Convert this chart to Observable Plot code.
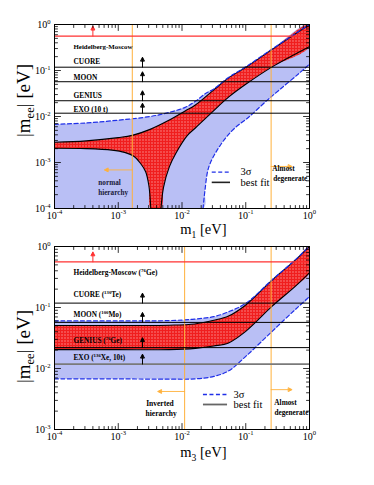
<!DOCTYPE html>
<html><head><meta charset="utf-8">
<script src="https://cdn.jsdelivr.net/npm/d3@7"></script>
<script src="https://cdn.jsdelivr.net/npm/@observablehq/plot@0.6"></script>
<style>body{margin:0;background:#fff} #c svg{display:block}</style>
</head><body>
<svg width="0" height="0" style="position:absolute">
<defs>
<pattern id="redDots" width="3" height="3" patternUnits="userSpaceOnUse">
<rect width="3" height="3" fill="#f01e1e"/><rect x="1" y="1" width="1" height="1" fill="#ffd6d6"/>
</pattern>
<pattern id="blueDots" width="2" height="2" patternUnits="userSpaceOnUse">
<rect width="2" height="2" fill="#d8dcfa"/><rect x="0" y="0" width="1" height="1" fill="#5a68e6"/>
</pattern>
</defs></svg>
<div id="c"></div>
<script>
// ---------- data ----------
const X_TICKS = [1e-4, 1e-3, 1e-2, 1e-1, 1];
const X_TICK_LABELS = ["10^{-4}", "10^{-3}", "10^{-2}", "10^{-1}", "10^{0}"];
const Y_TICKS_TOP = [1e-4, 1e-3, 1e-2, 1e-1, 1];
const Y_TICK_LABELS_TOP = ["10^{-4}", "10^{-3}", "10^{-2}", "10^{-1}", "10^{0}"];
const Y_TICKS_BOT = [1e-3, 1e-2, 1e-1, 1];
const Y_TICK_LABELS_BOT = ["10^{-3}", "10^{-2}", "10^{-1}", "10^{0}"];

const EXP_TOP = ["Heidelberg-Moscow", "CUORE", "MOON", "GENIUS", "EXO (10 t)"];
const EXP_BOT = ["Heidelberg-Moscow (^{76}Ge)", "CUORE (^{130}Te)", "MOON (^{100}Mo)", "GENIUS (^{76}Ge)", "EXO (^{136}Xe, 10t)"];
const LIMITS = [0.56, 0.118, 0.057, 0.022, 0.0118];

const ORANGE_TOP = [1.66e-3, 0.25];
const ORANGE_BOT = [0.011, 0.25];

// normal hierarchy: [m1, |mee|]
const nhFitHi = [[1e-4,2.75e-3],[3.16e-4,2.95e-3],[1e-3,3.47e-3],[1.66e-3,3.89e-3],[3.16e-3,5.25e-3],[5.89e-3,7.94e-3],[0.0112,0.0132],[0.0162,0.0178],[0.0316,0.038],[0.0537,0.069],[0.1,0.117],[0.26,0.288],[1,1.0]];
const nhFitLoA = [[1e-4,2.04e-3],[3.16e-4,2.0e-3],[7.94e-4,1.86e-3],[1.26e-3,1.66e-3],[1.78e-3,1.35e-3],[2.24e-3,9.5e-4],[2.69e-3,6.3e-4],[3.02e-3,3.16e-4],[3.24e-3,1e-4]];
const nhFitLoB = [[4.68e-3,1e-4],[5.13e-3,2.88e-4],[6.31e-3,7.94e-4],[7.94e-3,1.55e-3],[0.012,3.8e-3],[0.0162,5.62e-3],[0.0295,0.0123],[0.0537,0.0263],[0.1,0.0501],[0.26,0.12],[1,0.331]];
const nh3Hi = [[1e-4,6.76e-3],[3.16e-4,7.24e-3],[1e-3,8.32e-3],[3.16e-3,0.01],[5.89e-3,0.012],[0.0112,0.0158],[0.0162,0.0214],[0.0234,0.0316],[0.0316,0.0398],[0.0537,0.0708],[0.1,0.12],[0.26,0.295],[1,1.01]];
const nh3Lo = [[0.0214,1e-4],[0.0229,2.45e-4],[0.0263,7.94e-4],[0.038,2.14e-3],[0.0617,5.01e-3],[0.112,9.77e-3],[0.216,0.0224],[0.331,0.0372],[0.676,0.0851],[1,0.138]];

// inverted hierarchy: [m3, |mee|]
const ihFitHi = [[1e-4,0.0507],[1e-3,0.0507],[6.31e-3,0.0513],[0.0158,0.0537],[0.0316,0.0617],[0.0537,0.0724],[0.1,0.11],[0.26,0.282],[0.603,0.603],[1,1.0]];
const ihFitLo = [[1e-4,0.0204],[1e-3,0.0204],[6.31e-3,0.0204],[0.0162,0.0214],[0.0316,0.0234],[0.0537,0.0263],[0.1,0.0407],[0.26,0.105],[0.603,0.224],[1,0.372]];
const ih3Hi = [[1e-4,0.0603],[1e-3,0.0603],[6.31e-3,0.061],[0.0158,0.0646],[0.0316,0.0708],[0.0537,0.0851],[0.1,0.117],[0.26,0.285],[0.603,0.61],[1,1.01]];
const ih3Lo = [[1e-4,6.76e-3],[1e-3,6.76e-3],[6.31e-3,6.68e-3],[0.0162,6.76e-3],[0.0316,7.41e-3],[0.0537,9.12e-3],[0.1,0.0158],[0.26,0.0407],[0.603,0.0933],[1,0.151]];

// ---------- drawing ----------
const SERIF = "'Liberation Serif','Times New Roman','DejaVu Serif',serif";
const BLUE = "#1f2fe8", RED = "#ff3030", ORANGE = "#ffb13b";
const minorTicks = (lo, hi) => { const out = []; for (let e = lo; e < hi; e++) for (let k = 2; k < 10; k++) out.push(k * 10 ** e); return out; };
const X_MINOR = minorTicks(-4, 0);

const tickLine = {draw(c, l) { c.moveTo(0, 0); c.lineTo(0, -l); }};
const arrowHead = {draw(c, l) { c.moveTo(0, 0); c.lineTo(0, -l + 3); c.moveTo(-1.8, -l + 3.6); c.lineTo(0, -l); c.lineTo(1.8, -l + 3.6); c.closePath(); }};
const px = d => d[0], py = d => d[1];

function frameTicks(yMaj, yMin) {
  const v = (data, o) => Plot.vector(data, {shape: tickLine, anchor: "start", stroke: "black", strokeWidth: 0.8, ...o});
  return [
    v(X_TICKS, {x: d => d, frameAnchor: "bottom", rotate: 0, length: 6}),
    v(X_MINOR, {x: d => d, frameAnchor: "bottom", rotate: 0, length: 3}),
    v(X_TICKS, {x: d => d, frameAnchor: "top", rotate: 180, length: 6}),
    v(X_MINOR, {x: d => d, frameAnchor: "top", rotate: 180, length: 3}),
    v(yMaj, {y: d => d, frameAnchor: "left", rotate: 90, length: 6}),
    v(yMin, {y: d => d, frameAnchor: "left", rotate: 90, length: 3}),
    v(yMaj, {y: d => d, frameAnchor: "right", rotate: -90, length: 6}),
    v(yMin, {y: d => d, frameAnchor: "right", rotate: -90, length: 3})
  ];
}
function axes(yTicks, yLabels) {
  return [
    Plot.axisX({ticks: X_TICKS, tickFormat: d => X_TICK_LABELS[X_TICKS.indexOf(d)], tickSize: 0, tickPadding: 3, label: null, fontSize: 10}),
    Plot.axisY({ticks: yTicks, tickFormat: d => yLabels[yTicks.indexOf(d)], tickSize: 0, tickPadding: 4, label: null, fontSize: 10})
  ];
}
function expMarks(names, hmDy, dys, fontHM, fontOther, exoColor) {
  const rows = names.map((name, i) => ({name, limit: LIMITS[i], dy: dys[i]}));
  const out = [
    Plot.ruleY(rows.slice(0, 1), {y: "limit", stroke: RED, strokeWidth: 1.2}),
    Plot.ruleY(rows.slice(1, 4), {y: "limit", stroke: "black", strokeWidth: 1}),
    Plot.ruleY(rows.slice(4), {y: "limit", stroke: exoColor, strokeWidth: exoColor === "black" ? 1 : 1.6}),
    Plot.vector(rows.slice(0, 1), {x: 4e-4, y: "limit", rotate: 0, length: 10, anchor: "start", shape: arrowHead, stroke: RED, fill: RED, strokeWidth: 1}),
    Plot.vector(rows.slice(1), {x: 2.4e-3, y: "limit", rotate: 0, length: 10, anchor: "start", shape: arrowHead, stroke: "black", fill: "black", strokeWidth: 1}),
    Plot.text(rows.slice(0, 1), {y: "limit", text: "name", frameAnchor: "left", dx: 19, dy: hmDy, textAnchor: "start", fontWeight: "bold", fontSize: fontHM})
  ];
  rows.slice(1).forEach(r => out.push(Plot.text([r], {y: "limit", text: "name", frameAnchor: "left", dx: 19, dy: r.dy, textAnchor: "start", fontWeight: "bold", fontSize: fontOther})));
  return out;
}
function bandMarks(blueShape, redShape, fitLines, sigmaLines) {
  return [
    Plot.line(blueShape, {x: px, y: py, fill: "url(#blueDots)", stroke: "none", curve: "catmull-rom", clip: true}),
    Plot.line(redShape, {x: px, y: py, fill: "url(#redDots)", stroke: "none", curve: "catmull-rom", clip: true}),
    ...fitLines.map(l => Plot.line(l, {x: px, y: py, stroke: "black", strokeWidth: 1.1, curve: "catmull-rom", clip: true})),
    ...sigmaLines.map(l => Plot.line(l, {x: px, y: py, stroke: BLUE, strokeWidth: 1.2, strokeDasharray: "4,2.5", curve: "catmull-rom", clip: true}))
  ];
}
const style = {fontFamily: SERIF, fontSize: "10px", color: "black", background: "white"};

const plotTop = Plot.plot({
  width: 374, height: 240, marginTop: 24, marginBottom: 32, marginLeft: 54, marginRight: 65,
  x: {type: "log", domain: [1e-4, 1]}, y: {type: "log", domain: [1e-4, 1]}, style,
  marks: [
    ...bandMarks([...nh3Hi, ...nh3Lo.slice().reverse(), [1e-4, 1e-4]],
                 [...nhFitHi, ...nhFitLoB.slice().reverse(), ...nhFitLoA.slice().reverse()],
                 [nhFitHi, nhFitLoA, nhFitLoB], [nh3Hi, nh3Lo]),
    Plot.ruleX(ORANGE_TOP, {stroke: ORANGE, strokeWidth: 1}),
    ...expMarks(EXP_TOP, 11, [0, -6, -4, -5, -4], 6.9, 7.4, "black"),
    Plot.vector([ORANGE_TOP[0]], {x: d => d, y: 6.9e-4, rotate: -90, length: 28, anchor: "start", shape: arrowHead, stroke: ORANGE, fill: ORANGE, strokeWidth: 0.9}),
    Plot.vector([ORANGE_TOP[1]], {x: d => d, y: 8.2e-4, rotate: 90, length: 21, anchor: "start", shape: arrowHead, stroke: ORANGE, fill: ORANGE, strokeWidth: 0.9}),
    Plot.text(["normal"], {x: 7.3e-4, y: 3.7e-4, fontSize: 7.2, fontWeight: "bold", fill: "#1a1a3a"}),
    Plot.text(["hierarchy"], {x: 8.3e-4, y: 2.2e-4, fontSize: 7.2, fontWeight: "bold", fill: "#1a1a3a"}),
    Plot.text(["Almost"], {x: 0.39, y: 7.4e-4, fontSize: 7.3, fontWeight: "bold"}),
    Plot.text(["degenerate"], {x: 0.5, y: 4.5e-4, fontSize: 7.3, fontWeight: "bold"}),
    Plot.ruleY([6.2e-4], {x1: 0.0298, x2: 0.0577, stroke: BLUE, strokeWidth: 1.3, strokeDasharray: "4,2.5"}),
    Plot.ruleY([3.7e-4], {x1: 0.0298, x2: 0.0577, stroke: "#222", strokeWidth: 1.6}),
    Plot.text(["3σ"], {x: 0.083, y: 6.2e-4, textAnchor: "start", fontSize: 10.5}),
    Plot.text(["best fit"], {x: 0.083, y: 3.7e-4, textAnchor: "start", fontSize: 10.5}),
    Plot.frame({stroke: "black", strokeWidth: 1}),
    ...frameTicks(Y_TICKS_TOP, minorTicks(-4, 0)),
    ...axes(Y_TICKS_TOP, Y_TICK_LABELS_TOP),
    Plot.text(["m_{1} [eV]"], {x: 0.0217, y: 3.5e-5, fontSize: 14.5}),
    Plot.text(["|m_{ee}| [eV]"], {x: 3.27e-5, y: 0.0223, rotate: -90, fontSize: 19})
  ]
});

const plotBot = Plot.plot({
  width: 374, height: 245, marginTop: 6, marginBottom: 56, marginLeft: 54, marginRight: 65,
  x: {type: "log", domain: [1e-4, 1]}, y: {type: "log", domain: [1e-3, 1]}, style,
  marks: [
    ...bandMarks([...ih3Hi, ...ih3Lo.slice().reverse()],
                 [...ihFitHi, ...ihFitLo.slice().reverse()],
                 [ihFitHi, ihFitLo], [ih3Hi, ih3Lo]),
    Plot.ruleX(ORANGE_BOT, {stroke: ORANGE, strokeWidth: 1}),
    ...expMarks(EXP_BOT, 10.5, [0, -8, -7.5, -7, -6], 7.4, 7.3, "#7a7a7a"),
    Plot.vector([ORANGE_BOT[0]], {x: d => d, y: 4.2e-3, rotate: -90, length: 27, anchor: "start", shape: arrowHead, stroke: ORANGE, fill: ORANGE, strokeWidth: 0.9}),
    Plot.vector([ORANGE_BOT[1]], {x: d => d, y: 4.5e-3, rotate: 90, length: 21, anchor: "start", shape: arrowHead, stroke: ORANGE, fill: ORANGE, strokeWidth: 0.9}),
    Plot.text(["Inverted"], {x: 4.5e-3, y: 2.7e-3, fontSize: 7.5, fontWeight: "bold"}),
    Plot.text(["hierarchy"], {x: 4.7e-3, y: 1.8e-3, fontSize: 7.5, fontWeight: "bold"}),
    Plot.text(["Almost"], {x: 0.42, y: 2.8e-3, fontSize: 7.3, fontWeight: "bold"}),
    Plot.text(["degenerate"], {x: 0.52, y: 1.9e-3, fontSize: 7.3, fontWeight: "bold"}),
    Plot.ruleY([3.75e-3], {x1: 0.0217, x2: 0.0518, stroke: BLUE, strokeWidth: 1.3, strokeDasharray: "4,2.5"}),
    Plot.ruleY([2.57e-3], {x1: 0.0217, x2: 0.0518, stroke: "#666", strokeWidth: 1.8}),
    Plot.text(["3σ"], {x: 0.0643, y: 3.75e-3, textAnchor: "start", fontSize: 10.5}),
    Plot.text(["best fit"], {x: 0.0643, y: 2.57e-3, textAnchor: "start", fontSize: 10.5}),
    Plot.frame({stroke: "black", strokeWidth: 1}),
    ...frameTicks(Y_TICKS_BOT, minorTicks(-3, 0)),
    ...axes(Y_TICKS_BOT, Y_TICK_LABELS_BOT),
    Plot.text(["m_{3} [eV]"], {x: 0.0217, y: 4.2e-4, fontSize: 14.5}),
    Plot.text(["|m_{ee}| [eV]"], {x: 3.27e-5, y: 0.0229, rotate: -90, fontSize: 19})
  ]
});

const c = document.getElementById("c");
c.appendChild(plotTop);
c.appendChild(plotBot);

// render ^{..} and _{..} as real super/subscript tspans
function rich(root) {
  root.querySelectorAll("text").forEach(t => {
    const s = t.textContent;
    if (!/[\^_]\{/.test(s)) return;
    const fs = parseFloat(getComputedStyle(t).fontSize) || 10;
    while (t.firstChild) t.removeChild(t.firstChild);
    const re = /([\^_])\{([^}]*)\}/g;
    let last = 0, m, cur = 0;
    const push = (txt, off, small) => {
      if (!txt) return;
      const ts = document.createElementNS("http://www.w3.org/2000/svg", "tspan");
      ts.textContent = txt;
      if (small) ts.setAttribute("font-size", (fs * 0.66).toFixed(2));
      const d = off - cur;
      if (d) ts.setAttribute("dy", d.toFixed(2));
      cur = off;
      t.appendChild(ts);
    };
    while ((m = re.exec(s))) {
      push(s.slice(last, m.index), 0, false);
      push(m[2], m[1] === "^" ? -fs * 0.42 : fs * 0.25, true);
      last = re.lastIndex;
    }
    push(s.slice(last), 0, false);
  });
}
rich(c);
</script></body></html>
